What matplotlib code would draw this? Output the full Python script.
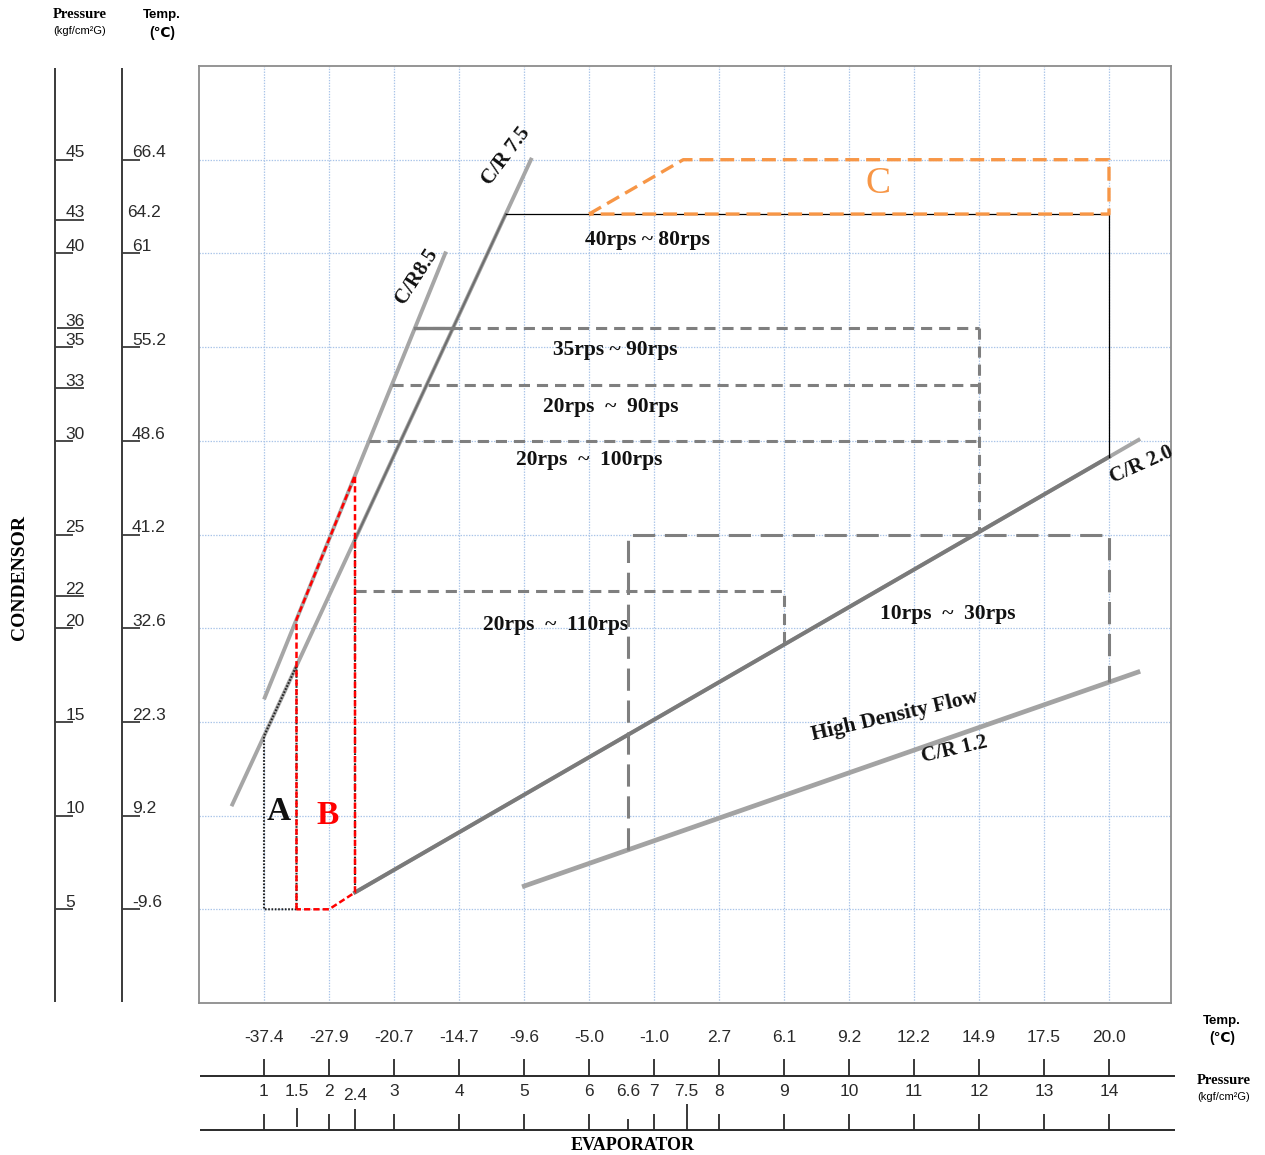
import numpy as np
import matplotlib
matplotlib.use("Agg")
import matplotlib.pyplot as plt

plt.rcParams["lines.scale_dashes"] = False
plt.rcParams["font.family"] = ["Liberation Sans", "DejaVu Sans"]
SERIF = ["Liberation Serif", "DejaVu Serif"]

# evaporator scale (bottom)
evap_pressure = [1, 2, 3, 4, 5, 6, 7, 8, 9, 10, 11, 12, 13, 14]
evap_temp = ["-37.4", "-27.9", "-20.7", "-14.7", "-9.6", "-5.0", "-1.0",
             "2.7", "6.1", "9.2", "12.2", "14.9", "17.5", "20.0"]
evap_extra = [1.5, 2.4, 6.6, 7.5]

# condenser scale (left)
cond_pressure_lbl = ["45", "43", "40", "36", "35", "33", "30", "25", "22", "20", "15", "10", "5"]
cond_pressure_pos = [45, 41.8, 40, 36, 35, 32.8, 30, 25, 21.7, 20, 15, 10, 5]
cond_temp_lbl = ["66.4", "64.2", "61", "55.2", "48.6", "41.2", "32.6", "22.3", "9.2", "-9.6"]
cond_temp_pos = [45, 41.8, 40, 35, 30, 25, 20, 15, 10, 5]

# compression ratio lines: end points (evaporator p, condenser p)
cr75_e, cr75_c = [0.5, 5.12], [10.5, 45.1]
cr85_e, cr85_c = [1.0, 3.8], [16.2, 40.1]
cr20_e, cr20_c = [2.4, 14.48], [5.9, 30.1]
cr12_e, cr12_c = [4.97, 14.48], [6.2, 17.7]

# operating zones
max_cond, max_evap = 42.1, 14.0
zone_c_e = [6.0, 7.45, 14.0, 14.0, 6.0]
zone_c_c = [42.1, 45.0, 45.0, 42.1, 42.1]
rps_tops = [36, 33, 30]          # 35~90, 20~90, 20~100 rps
rps_right = 12.0
low_e, low_top = [6.6, 14.0], 25   # 10~30 rps
mid_e, mid_top = [2.4, 9.0], 22    # 20~110 rps
zone_a_e = [1.0, 1.5]
zone_b_e = [1.5, 2.0, 2.4]
min_cond = 5.0


def cond_on(le, lc, e):
    return float(np.interp(e, le, lc))


def evap_on(le, lc, c):
    return float(np.interp(c, lc, le))


W, H = 1265, 1155
fig = plt.figure(figsize=(W / 100, H / 100), dpi=100)

# main chart
ax = fig.add_axes([199 / W, (H - 1003) / H, 972 / W, 937 / H])
ax.set_xlim(0, 972 / 65)
ax.set_ylim(0, 50)
ax.set_xticks(evap_pressure)
ax.set_yticks(range(5, 50, 5))
ax.tick_params(length=0, labelbottom=False, labelleft=False)
ax.grid(color="#a9c4e8", linestyle=(0, (1, 1)), lw=0.9)
for s in ax.spines.values():
    s.set_color("#8c8c8c")
    s.set_linewidth(1.3)

light, dark = "#a6a6a6", "#7a7a7a"
# C/R lines
ax.plot(cr75_e, cr75_c, color=light, lw=2.8, solid_capstyle="butt", zorder=3)
ax.plot(cr85_e, cr85_c, color=light, lw=2.8, solid_capstyle="butt", zorder=3)
ax.plot(cr20_e, cr20_c, color=light, lw=2.8, solid_capstyle="butt", zorder=3)
ax.plot(cr12_e, cr12_c, color="#a3a3a3", lw=3.4, solid_capstyle="butt", zorder=3)
ax.plot([cr20_e[0], max_evap], [cr20_c[0], cond_on(cr20_e, cr20_c, max_evap)],
        color=dark, lw=2.8, zorder=4)
ax.plot([2.4, evap_on(cr75_e, cr75_c, max_cond)],
        [cond_on(cr75_e, cr75_c, 2.4), max_cond], color="#6e6e6e", lw=1.5, zorder=4)

# outer envelope (black)
ax.plot([evap_on(cr75_e, cr75_c, max_cond), max_evap, max_evap],
        [max_cond, max_cond, cond_on(cr20_e, cr20_c, max_evap)],
        color="black", lw=0.9, zorder=4)

# rps zones (gray dashed)
gd = dict(color="#7f7f7f", lw=2.2, dashes=(8, 5), zorder=5)
for top in rps_tops:
    ax.plot([evap_on(cr85_e, cr85_c, top), rps_right], [top, top], **gd)
ax.plot([evap_on(cr85_e, cr85_c, rps_tops[0]), evap_on(cr75_e, cr75_c, rps_tops[0])],
        [rps_tops[0]] * 2, color="#7f7f7f", lw=2.4, zorder=6)
ax.plot([rps_right, rps_right], [rps_tops[0], cond_on(cr20_e, cr20_c, rps_right)], **gd)
ax.plot([mid_e[0], mid_e[1], mid_e[1]],
        [mid_top, mid_top, cond_on(cr20_e, cr20_c, mid_e[1])], **gd)
ld = dict(color="#7f7f7f", lw=2.2, dashes=(16, 7), zorder=5)
ax.plot([low_e[0], low_e[0], low_e[1], low_e[1]],
        [cond_on(cr12_e, cr12_c, low_e[0]), low_top, low_top,
         cond_on(cr12_e, cr12_c, low_e[1])], **ld)

# zone C (orange)
ax.plot(zone_c_e, zone_c_c, color="#f79646", lw=2.4, dashes=(10, 5), zorder=6)

# zone A (black dotted)
a0, a1 = zone_a_e
ax.plot([a1, a0, a0, a1, a1],
        [min_cond, min_cond, cond_on(cr75_e, cr75_c, a0), cond_on(cr75_e, cr75_c, a1), min_cond],
        color="#222222", lw=1.5, dashes=(1.2, 1.2), zorder=6)
ax.plot([2.4, 2.4], [cond_on(cr75_e, cr75_c, 2.4), cond_on(cr20_e, cr20_c, 2.4)],
        color="#222222", lw=1.5, dashes=(1.2, 1.2), zorder=6)

# zone B (red dashed)
b0, b1, b2 = zone_b_e
ax.plot([b0, b0, b2, b2, b1, b0],
        [min_cond, cond_on(cr85_e, cr85_c, b0), cond_on(cr85_e, cr85_c, b2),
         cond_on(cr20_e, cr20_c, b2), min_cond, min_cond],
        color="#ff0000", lw=1.8, dashes=(4.5, 2.2), zorder=7)

# labels in chart
bold = dict(family=SERIF, fontweight="bold", color="#111111", ha="center", va="center")
ax.text(6.9, 40.7, "40rps ~ 80rps", fontsize=15.5, **bold)
ax.text(6.4, 34.85, "35rps ~ 90rps", fontsize=15.5, **bold)
ax.text(6.33, 31.8, "20rps  ~  90rps", fontsize=15.5, **bold)
ax.text(6.0, 29.0, "20rps  ~  100rps", fontsize=15.5, **bold)
ax.text(5.48, 20.15, "20rps  ~  110rps", fontsize=15.5, **bold)
ax.text(11.52, 20.75, "10rps  ~  30rps", fontsize=15.5, **bold)
ax.text(10.7, 15.3, "High Density Flow", fontsize=15.5, rotation=13, **bold)
ax.text(11.63, 13.5, "C/R 1.2", fontsize=15, rotation=13, **bold)
ax.text(14.5, 28.7, "C/R 2.0", fontsize=15, rotation=24, **bold)
ax.text(4.72, 45.2, "C/R 7.5", fontsize=15, rotation=53, **bold)
ax.text(3.35, 38.8, "C/R8.5", fontsize=15, rotation=57, **bold)
ax.text(1.23, 10.2, "A", fontsize=24, **bold)
ax.text(1.98, 10.0, "B", fontsize=24, **{**bold, "color": "#ff0000"})
ax.text(10.45, 43.7, "C", fontsize=27, family=SERIF, color="#f79646", ha="center", va="center")

# left condenser scales
axl = fig.add_axes([0, (H - 1003) / H, 199 / W, 937 / H])
axl.set_xlim(0, 199)
axl.set_ylim(0, 50)
axl.axis("off")
axl.vlines([55, 122], 0.05, 49.9, color="#3a3a3a", lw=1.4)
long_ticks = {"43", "36", "33", "22"}
for lbl, pos in zip(cond_pressure_lbl, cond_pressure_pos):
    x0 = 57 if lbl == "36" else 55
    x1 = 84 if lbl in long_ticks else 73
    axl.hlines(pos, x0, x1, color="#3a3a3a", lw=1.3)
    axl.text(65.5, pos + 0.12, lbl, ha="left", va="baseline", fontsize=12.5, color="#2a2a2a")
for lbl, pos in zip(cond_temp_lbl, cond_temp_pos):
    if lbl == "64.2":
        axl.text(127.5, pos + 0.12, lbl, ha="left", va="baseline", fontsize=12.5, color="#2a2a2a")
        continue
    axl.hlines(pos, 122, 140, color="#3a3a3a", lw=1.3)
    axl.text(132, pos + 0.12, lbl, ha="left", va="baseline", fontsize=12.5, color="#2a2a2a")
axl.text(20, (1003 - 578) / 18.74, "CONDENSOR", rotation=90, fontsize=14,
         family=SERIF, fontweight="bold", ha="center", va="center")

# bottom evaporator scales
axb = fig.add_axes([0, 0, 1, (H - 1003) / H])
axb.set_xlim(-199 / 65, (W - 199) / 65)
axb.set_ylim(H, 1003)
axb.axis("off")
axb.hlines([1076, 1130], 1 / 65, 976 / 65, color="#2a2a2a", lw=1.4)
axb.vlines(evap_pressure, 1059, 1076, color="#2a2a2a", lw=1.3)
axb.vlines(evap_pressure, 1114, 1130, color="#2a2a2a", lw=1.3)
extra_span = {1.5: (1108, 1127), 2.4: (1109, 1130), 6.6: (1119, 1130), 7.5: (1104, 1130)}
for p in evap_extra:
    y0, y1 = extra_span[p]
    axb.vlines(p, y0, y1, color="#2a2a2a", lw=1.3)
for p, t in zip(evap_pressure, evap_temp):
    axb.text(p, 1038, t, ha="center", va="center", fontsize=12.5, color="#2a2a2a")
press_lbls = sorted([(p, str(p)) for p in evap_pressure] + [(p, str(p)) for p in evap_extra])
for p, t in press_lbls:
    axb.text(p, 1096 if p == 2.4 else 1092, t, ha="center", va="center",
             fontsize=12.5, color="#2a2a2a")
axb.text(633 / 65 - 199 / 65, 1146, "EVAPORATOR", fontsize=13, family=SERIF,
         fontweight="bold", ha="center", va="center")

# axis headers
def hdr(x, y, s, **kw):
    fig.text(x / W, 1 - y / H, s, ha="center", va="center", **kw)

hdr(80, 15, "Pressure", fontsize=10.5, family=SERIF, fontweight="bold")
hdr(80, 31, "(kgf/cm\u00b2G)", fontsize=8)
hdr(162, 15, "Temp.", fontsize=9.5, fontweight="bold")
hdr(162, 33, "(\u2103)", fontsize=10, fontweight="bold")
hdr(1222, 1021, "Temp.", fontsize=9.5, fontweight="bold")
hdr(1222, 1038, "(\u2103)", fontsize=10, fontweight="bold")
hdr(1224, 1081, "Pressure", fontsize=10.5, family=SERIF, fontweight="bold")
hdr(1224, 1097, "(kgf/cm\u00b2G)", fontsize=8)

fig.savefig("out.png", dpi=100)
